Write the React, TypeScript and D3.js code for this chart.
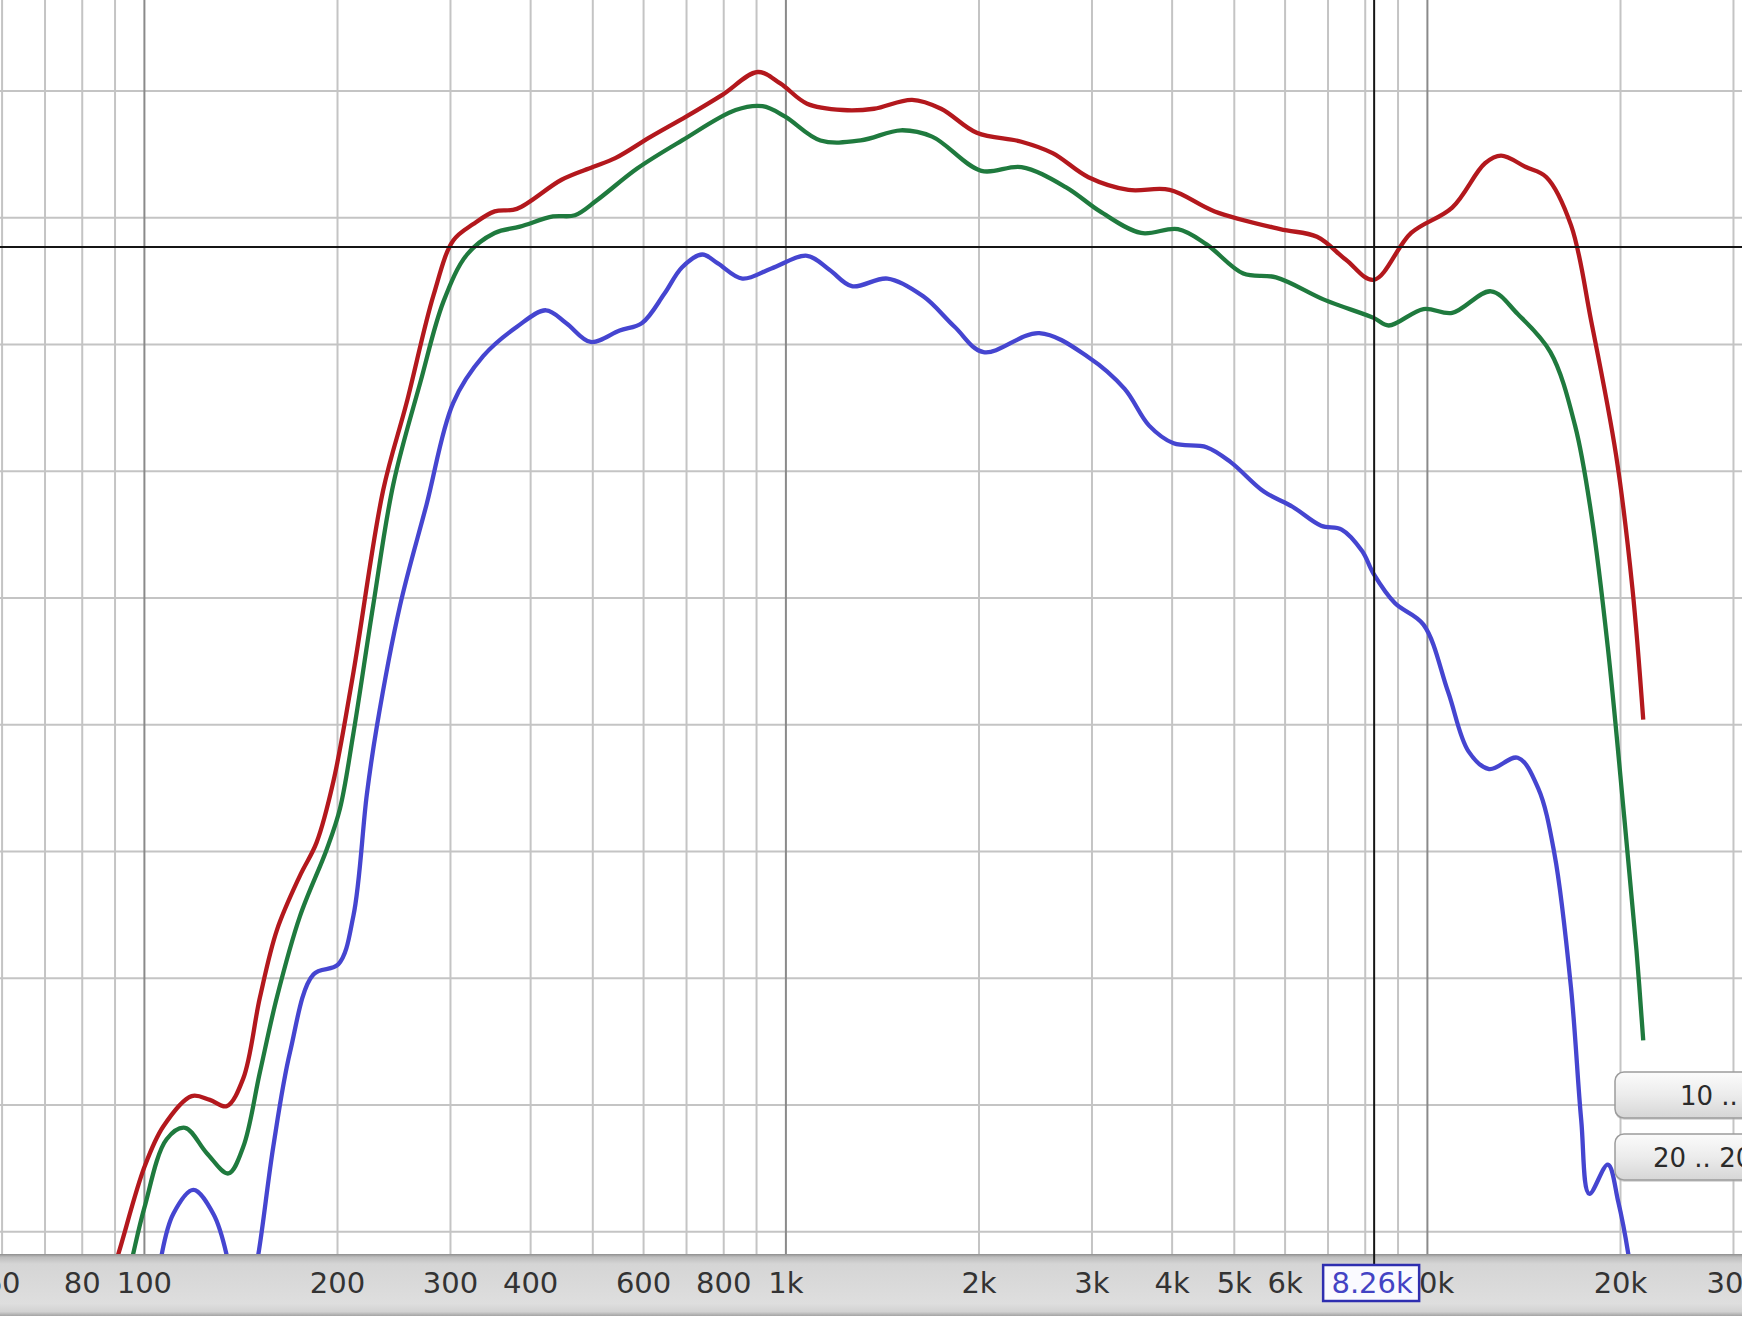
import React from 'react';
import * as d3 from 'd3';

const W = 1742;
const H = 1334;

// ---- data (frequency in Hz, level in dB) ----
const redFreq = [88, 91, 100, 107, 118.5, 126.5, 134.3, 142.6, 151.4, 160.9, 174.8, 185.5, 197, 211.7, 235.6, 256.3, 282.3, 303, 325.6, 351.6, 380.7, 447, 500, 542, 616, 700, 796, 904, 980, 1079, 1227, 1372, 1573, 1745, 1984, 2329, 2605, 2962, 3421, 3964, 4660, 5896, 6729, 7457, 8245, 9434, 10930, 12297, 13025, 14240, 15330, 16748, 18010, 19680, 20870, 21700];
const redDb = [-94, -91.8, -84.9, -81.7, -79.3, -79.6, -80.1, -77.9, -71.5, -66.2, -61.9, -59.3, -54.5, -45.9, -31.5, -24.6, -16.1, -11.8, -10.5, -9.5, -9.3, -7.0, -6.0, -5.3, -3.6, -2.0, -0.3, 1.5, 0.6, -1.0, -1.5, -1.4, -0.7, -1.4, -3.3, -4.0, -4.9, -6.8, -7.8, -7.8, -9.5, -10.9, -11.5, -13.3, -14.9, -11.2, -9.2, -5.7, -5.1, -6.0, -6.8, -10.6, -18.2, -28.7, -39.2, -49.6];

const greenFreq = [93, 96, 100, 108.3, 115.7, 125.1, 135.2, 142.6, 151.4, 160.9, 174.8, 192.5, 201.8, 211.7, 227.3, 244.4, 269.2, 292.6, 318.4, 351.6, 384.9, 433.5, 469, 508, 587, 689, 835, 919.5, 996, 1132, 1308, 1511, 1690, 2017, 2329, 2734, 3088, 3578, 4083, 4526, 5164, 5808, 6929, 8245, 8704, 9860, 10930, 12563, 13830, 15550, 16990, 18010, 19110, 20270, 21180, 21700];
const greenDb = [-95, -91.8, -88.1, -82.7, -81.8, -83.8, -85.4, -83.3, -77.4, -71.5, -65.1, -59.8, -56.6, -50.7, -40.6, -31.0, -23.0, -16.6, -12.9, -11.2, -10.7, -9.9, -9.8, -8.6, -6.1, -3.9, -1.5, -1.2, -2.0, -3.9, -3.9, -3.1, -3.6, -6.3, -6.0, -7.6, -9.5, -11.2, -10.9, -12.1, -14.4, -14.7, -16.5, -17.9, -18.5, -17.2, -17.5, -15.8, -17.6, -20.6, -26.4, -33.4, -43.9, -57.3, -67.8, -74.9];

const blueFreq = [104, 106.4, 110.9, 119.2, 128.1, 134.3, 138, 145, 150.5, 158.8, 168.7, 183.4, 200.6, 211.7, 222.2, 230.2, 250.3, 275.4, 303, 337.6, 380.9, 422.7, 454.2, 496.2, 550.7, 596.8, 646.4, 689, 740.6, 783.4, 855.3, 949.3, 1079, 1169, 1267, 1440, 1637, 1832, 2032, 2483, 2962, 3373, 3683, 4022, 4526, 4941, 5559, 6163, 6829, 7351, 7911, 8245, 8896, 9860, 10770, 11590, 12480, 13830, 14880, 15780, 16740, 17370, 17880, 19110, 19830, 20560, 21100];
const blueDb = [-96, -91.8, -88.6, -86.7, -88.6, -91.8, -96, -96, -91.8, -83.3, -75.8, -69.7, -68.9, -65.1, -55.5, -50.2, -40.6, -32.6, -24.6, -20.9, -18.6, -17.3, -18.3, -19.8, -18.9, -18.3, -16.0, -13.9, -12.9, -13.6, -14.8, -14.0, -13.0, -14.1, -15.4, -14.8, -16.2, -18.6, -20.6, -19.1, -21.0, -23.5, -26.4, -27.8, -28.1, -29.3, -31.6, -32.8, -34.3, -34.6, -36.3, -38.1, -40.4, -42.1, -47.4, -52.1, -53.5, -52.6, -55.0, -60.2, -70.7, -81.2, -87.0, -84.7, -87.6, -91.7, -96];

const gridDb = [0, -10, -20, -30, -40, -50, -60, -70, -80, -90];
const minorFreqs = [60, 70, 80, 90, 200, 300, 400, 500, 600, 700, 800, 900, 2000, 3000, 4000, 5000, 6000, 7000, 8000, 9000, 20000, 30000];
const majorFreqs = [100, 1000, 10000];
const tickFreqs = [60, 80, 100, 200, 300, 400, 600, 800, 1000, 2000, 3000, 4000, 5000, 6000, 10000, 20000, 30000];
const tickLabels = ['60', '80', '100', '200', '300', '400', '600', '800', '1k', '2k', '3k', '4k', '5k', '6k', '10k', '20k', '30k'];
const cursorFreq = 8260;
const cursorDb = -12.3;
const cursorLabel = '8.26k';
const buttonLabels = ['10 .. 30k', '20 .. 20k'];

const series = [
  { name: 'red', freq: redFreq, db: redDb, color: '#b3181d' },
  { name: 'green', freq: greenFreq, db: greenDb, color: '#1f7a3e' },
  { name: 'blue', freq: blueFreq, db: blueDb, color: '#4545d0' },
];

export default function App() {
  const plotBottom = 1254;
  const x = d3.scaleLog().domain([100, 10000]).range([144.4, 1427.4]);
  const y = d3.scaleLinear().domain([0, -90]).range([91, 1231.75]);
  const line = d3
    .line<[number, number]>()
    .x((d) => x(d[0]))
    .y((d) => y(d[1]))
    .curve(d3.curveCatmullRom.alpha(0.5));

  const cx = x(cursorFreq);
  const cy = y(cursorDb);
  const font = "'DejaVu Sans', 'Liberation Sans', sans-serif";

  return (
    <svg
      width={W}
      height={H}
      style={{ position: 'absolute', left: 0, top: 0, background: '#fff' }}
    >
      <defs>
        <clipPath id="plotClip">
          <rect x={0} y={0} width={W} height={plotBottom} />
        </clipPath>
        <linearGradient id="barGrad" x1="0" y1="0" x2="0" y2="1">
          <stop offset="0%" stopColor="#8e8e8e" />
          <stop offset="5%" stopColor="#bdbdbd" />
          <stop offset="16%" stopColor="#d5d5d5" />
          <stop offset="80%" stopColor="#dedede" />
          <stop offset="93%" stopColor="#d2d2d2" />
          <stop offset="100%" stopColor="#a4a4a4" />
        </linearGradient>
        <linearGradient id="btnGrad" x1="0" y1="0" x2="0" y2="1">
          <stop offset="0%" stopColor="#fbfbfb" />
          <stop offset="50%" stopColor="#ececec" />
          <stop offset="100%" stopColor="#d6d6d6" />
        </linearGradient>
      </defs>

      <rect x={0} y={0} width={W} height={H} fill="#fff" />

      {/* grid */}
      <g clipPath="url(#plotClip)">
        {gridDb.map((d) => (
          <line key={'h' + d} x1={0} x2={W} y1={y(d)} y2={y(d)} stroke="#c4c4c4" strokeWidth={2} />
        ))}
        {minorFreqs.map((f) => (
          <line key={'v' + f} x1={x(f)} x2={x(f)} y1={0} y2={plotBottom} stroke="#c4c4c4" strokeWidth={2} />
        ))}
        {majorFreqs.map((f) => (
          <line key={'m' + f} x1={x(f)} x2={x(f)} y1={0} y2={plotBottom} stroke="#8a8a8a" strokeWidth={2} />
        ))}

        {/* curves */}
        {series.map((s) => (
          <path
            key={s.name}
            d={line(s.freq.map((f, i) => [f, s.db[i]] as [number, number])) || ''}
            fill="none"
            stroke={s.color}
            strokeWidth={4.3}
            strokeLinejoin="round"
            strokeLinecap="butt"
          />
        ))}

        {/* cursor crosshair */}
        <line x1={0} x2={W} y1={cy} y2={cy} stroke="#151515" strokeWidth={2} />
        <line x1={cx} x2={cx} y1={0} y2={plotBottom} stroke="#151515" strokeWidth={2} />
      </g>

      {/* axis bar */}
      <rect x={0} y={plotBottom} width={W} height={62} fill="url(#barGrad)" />
      <line x1={cx} x2={cx} y1={plotBottom} y2={1266} stroke="#151515" strokeWidth={2} />

      {tickFreqs.map((f, i) => (
        <text
          key={'t' + f}
          x={x(f)}
          y={1293}
          textAnchor="middle"
          fontFamily={font}
          fontSize={29}
          fill="#333"
        >
          {tickLabels[i]}
        </text>
      ))}

      {/* cursor label */}
      <rect x={cx - 51} y={1265} width={96} height={36} fill="#fafaff" stroke="#2e2eb0" strokeWidth={2.5} />
      <text x={cx - 2} y={1293} textAnchor="middle" fontFamily={font} fontSize={29} fill="#4343c4">
        {cursorLabel}
      </text>

      {/* buttons */}
      {buttonLabels.map((b, i) => {
        const by = i === 0 ? 1072 : 1134;
        const tx = i === 0 ? 1680 : 1653;
        return (
          <g key={b}>
            <rect x={1615} y={by + 2} width={220} height={46} rx={9} fill="#b8b8b8" opacity={0.5} />
            <rect x={1615} y={by} width={220} height={46} rx={9} fill="url(#btnGrad)" stroke="#9c9c9c" strokeWidth={1.5} />
            <text x={tx} y={by + 33} fontFamily={font} fontSize={26} fill="#2a2a2a">
              {b}
            </text>
          </g>
        );
      })}
    </svg>
  );
}
